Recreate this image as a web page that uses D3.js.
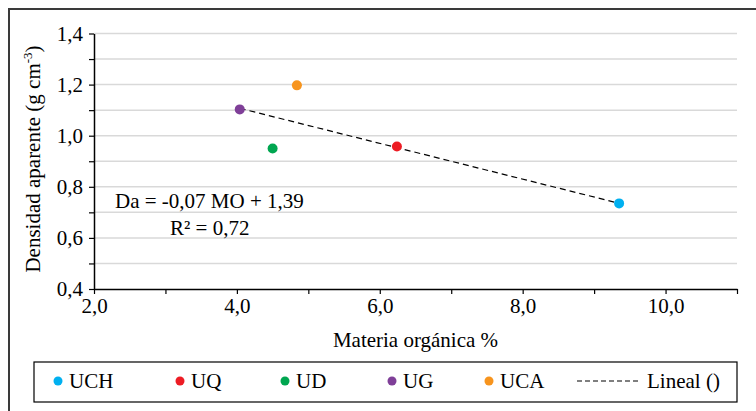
<!DOCTYPE html>
<html>
<head>
<meta charset="utf-8">
<script src="https://cdn.jsdelivr.net/npm/d3@7"></script>
<style>
  html, body { margin: 0; padding: 0; background: #fff; }
  svg { display: block; }
  svg text { font-family: 'Liberation Serif', 'Times New Roman', Times, 'DejaVu Serif', serif !important; }
</style>
</head>
<body>
<svg id="chart" width="756" height="411"></svg>
<script>
// Soil units and their measurements
const units = ["UCH", "UQ", "UD", "UG", "UCA"];
const organicMatter = [9.35, 6.24, 4.50, 4.04, 4.84];   // MO %
const bulkDensity = [0.735, 0.958, 0.950, 1.103, 1.197]; // Da, g cm-3
const unitColors = ["#00b0f0", "#ed1c24", "#00a650", "#7f3f98", "#f7941d"];

// Linear fit: Da = -0,07 MO + 1,39
const fitSlope = -0.07;
const fitIntercept = 1.39;
const fitR2 = 0.72;

const xTicks = [2, 3, 4, 5, 6, 7, 8, 9, 10, 11];
const xLabels = [2, 4, 6, 8, 10];
const yTicks = [0.4, 0.5, 0.6, 0.7, 0.8, 0.9, 1.0, 1.1, 1.2, 1.3, 1.4];
const yLabels = [0.4, 0.6, 0.8, 1.0, 1.2, 1.4];

const FS = 21;
const dec = n => v => d3.format(`.${n}f`)(v).replace("−", "-").replace(".", ",");
const comma = dec(1);

const svg = d3.select("#chart");

// outer frame
svg.append("rect")
  .attr("x", 9).attr("y", 9).attr("width", 760).attr("height", 420)
  .attr("fill", "none").attr("stroke", "#3a3a3a").attr("stroke-width", 2);

const plot = { left: 94, right: 737, top: 33.5, bottom: 289 };

const x = d3.scaleLinear().domain([2, 11]).range([plot.left, plot.right]);
const y = d3.scaleLinear().domain([0.4, 1.4]).range([plot.bottom, plot.top]);

// horizontal gridlines
svg.append("g")
  .selectAll("line")
  .data(yTicks.filter(v => v > 0.4))
  .join("line")
  .attr("x1", plot.left).attr("x2", plot.right)
  .attr("y1", d => y(d)).attr("y2", d => y(d))
  .attr("stroke", "#d9d9d9").attr("stroke-width", 1.5);

// x axis
const xAxis = svg.append("g")
  .attr("transform", `translate(0,${plot.bottom})`)
  .call(d3.axisBottom(x).tickValues(xTicks).tickSize(5).tickSizeOuter(0)
    .tickFormat(d => xLabels.includes(d) ? comma(d) : ""));
xAxis.select(".domain").attr("stroke", "#000").attr("stroke-width", 1.5);
xAxis.selectAll(".tick line").attr("stroke", "#000").attr("stroke-width", 1.2);
xAxis.selectAll(".tick text")
  .attr("font-size", FS).attr("fill", "#000").attr("y", 24).attr("dy", 0);

// y axis
const yAxis = svg.append("g")
  .attr("transform", `translate(${plot.left},0)`)
  .call(d3.axisLeft(y).tickValues(yTicks).tickSize(5).tickSizeOuter(0)
    .tickFormat(d => yLabels.some(v => Math.abs(v - d) < 1e-9) ? comma(d) : ""));
yAxis.select(".domain").attr("stroke", "#000").attr("stroke-width", 1.5);
yAxis.selectAll(".tick line").attr("stroke", "#000").attr("stroke-width", 1.2);
yAxis.selectAll(".tick text")
  .attr("font-size", FS).attr("fill", "#000").attr("x", -11);

// axis titles
svg.append("text")
  .attr("x", (plot.left + plot.right) / 2).attr("y", 347)
  .attr("text-anchor", "middle").attr("font-size", FS).attr("fill", "#000")
  .text("Materia orgánica %");

const yTitle = svg.append("text")
  .attr("transform", "translate(40,159) rotate(-90)")
  .attr("text-anchor", "middle").attr("font-size", FS).attr("fill", "#000");
yTitle.append("tspan").text("Densidad aparente (g cm");
yTitle.append("tspan").attr("font-size", 13).attr("dy", -8).text("-3");
yTitle.append("tspan").attr("dy", 8).text(")");

// trend line across the observed range
const xMin = d3.min(organicMatter), xMax = d3.max(organicMatter);
svg.append("line")
  .attr("x1", x(xMin)).attr("y1", y(fitSlope * xMin + fitIntercept))
  .attr("x2", x(xMax)).attr("y2", y(fitSlope * xMax + fitIntercept))
  .attr("stroke", "#000").attr("stroke-width", 1.2)
  .attr("stroke-dasharray", "6,4");

// points
svg.append("g")
  .selectAll("circle")
  .data(units.map((u, i) => ({ u, mo: organicMatter[i], da: bulkDensity[i], c: unitColors[i] })))
  .join("circle")
  .attr("cx", d => x(d.mo)).attr("cy", d => y(d.da))
  .attr("r", 5).attr("fill", d => d.c);

// equation
svg.append("text")
  .attr("x", 115).attr("y", 208).attr("font-size", FS).attr("fill", "#000")
  .text(`Da = ${dec(2)(fitSlope)} MO + ${dec(2)(fitIntercept)}`);
svg.append("text")
  .attr("x", 170).attr("y", 235).attr("font-size", FS).attr("fill", "#000")
  .text(`R² = ${dec(2)(fitR2)}`);

// legend
svg.append("rect")
  .attr("x", 34).attr("y", 362).attr("width", 703).attr("height", 40)
  .attr("fill", "#fff").attr("stroke", "#000").attr("stroke-width", 1.2);

const legendX = [58, 180, 285, 392, 489];
const lg = svg.append("g");
units.forEach((u, i) => {
  lg.append("circle").attr("cx", legendX[i]).attr("cy", 381).attr("r", 4.5).attr("fill", unitColors[i]);
  lg.append("text").attr("x", legendX[i] + 11).attr("y", 388)
    .attr("font-size", FS).attr("fill", "#000").text(u);
});
lg.append("line").attr("x1", 577).attr("x2", 640).attr("y1", 381).attr("y2", 381)
  .attr("stroke", "#000").attr("stroke-width", 1.2).attr("stroke-dasharray", "5,3");
lg.append("text").attr("x", 647).attr("y", 388).attr("font-size", FS).attr("fill", "#000")
  .text("Lineal ()");
</script>
</body>
</html>
